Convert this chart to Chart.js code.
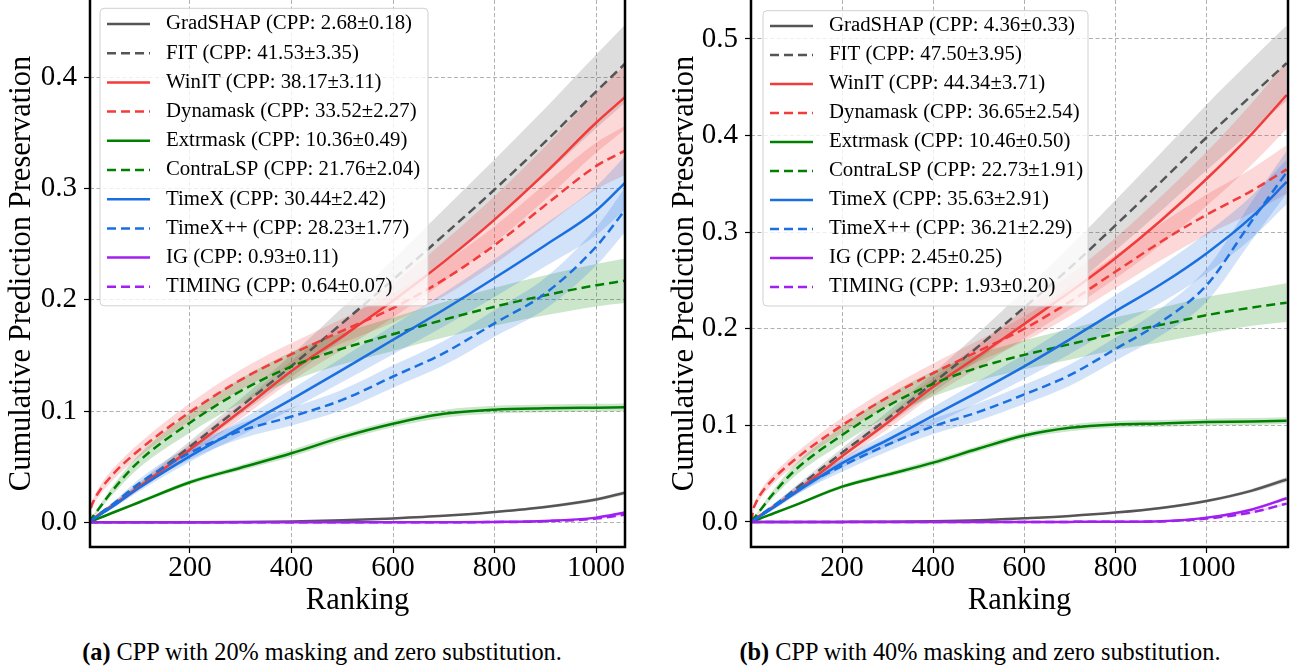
<!DOCTYPE html>
<html>
<head>
<meta charset="utf-8">
<script src="https://cdn.jsdelivr.net/npm/chart.js@4.4.1/dist/chart.umd.min.js"></script>
<style>
  body { margin: 0; background: #fff; width: 1296px; height: 669px; overflow: hidden; position: relative;
         font-family: 'Liberation Serif', 'Times New Roman', serif; }
  canvas { position: absolute; top: 0; }
  .caption { position: absolute; top: 638px; font-size: 24.3px; line-height: 28px; text-align: center; white-space: nowrap; color: #000; }
</style>
</head>
<body>
<canvas id="chartA" width="640" height="632" style="left:0"></canvas>
<canvas id="chartB" width="636" height="632" style="left:660px"></canvas>
<div class="caption" style="left:0;width:644px"><b>(a)</b> CPP with 20% masking and zero substitution.</div>
<div class="caption" style="left:660px;width:640px"><b>(b)</b> CPP with 40% masking and zero substitution.</div>
<script>
// series
const methods = ['GradSHAP', 'FIT', 'WinIT', 'Dynamask', 'Extrmask', 'ContraLSP', 'TimeX', 'TimeX++', 'IG', 'TIMING'];
const colors = ['#555555', '#555555', '#f23b3b', '#f23b3b', '#008000', '#008000', '#1a6fe0', '#1a6fe0', '#a020f0', '#a020f0'];
const dashed = [false, true, false, true, false, true, false, true, false, true];
const cppA = ['2.68±0.18', '41.53±3.35', '38.17±3.11', '33.52±2.27', '10.36±0.49', '21.76±2.04', '30.44±2.42', '28.23±1.77', '0.93±0.11', '0.64±0.07'];
const cppB = ['4.36±0.33', '47.50±3.95', '44.34±3.71', '36.65±2.54', '10.46±0.50', '22.73±1.91', '35.63±2.91', '36.21±2.29', '2.45±0.25', '1.93±0.20'];

const xTicks = [200, 400, 600, 800, 1000];
const yTicksA = [0, 0.1, 0.2, 0.3, 0.4];
const yTicksB = [0, 0.1, 0.2, 0.3, 0.4, 0.5];

// (a) 20% masking
const ranksA = [1, 5, 10, 20, 50, 100, 200, 300, 400, 500, 600, 700, 800, 900, 1000, 1057];
const gradshapA    = [0, 0, 0, 0, 0, 0, 0.0001, 0.0003, 0.0008, 0.0018, 0.0035, 0.0058, 0.0093, 0.0138, 0.0205, 0.0266];
const gradshapSdA  = [0, 0, 0, 0, 0, 0, 0, 0.0001, 0.0002, 0.0003, 0.0005, 0.0007, 0.0009, 0.0012, 0.0015, 0.0018];
const fitA         = [0, 0.0015, 0.003, 0.006, 0.016, 0.033, 0.068, 0.104, 0.1405, 0.179, 0.218, 0.258, 0.299, 0.342, 0.387, 0.412];
const fitSdA       = [0, 0, 0.0005, 0.001, 0.002, 0.003, 0.005, 0.007, 0.010, 0.014, 0.018, 0.023, 0.027, 0.030, 0.033, 0.035];
const winitA       = [0, 0.0017, 0.0035, 0.007, 0.016, 0.032, 0.0655, 0.100, 0.136, 0.167, 0.199, 0.234, 0.272, 0.314, 0.359, 0.382];
const winitSdA     = [0, 0, 0.0005, 0.001, 0.002, 0.003, 0.005, 0.007, 0.009, 0.012, 0.015, 0.018, 0.021, 0.024, 0.027, 0.029];
const dynamaskA    = [0, 0.013, 0.019, 0.027, 0.044, 0.065, 0.099, 0.128, 0.151, 0.172, 0.1925, 0.218, 0.249, 0.285, 0.320, 0.334];
const dynamaskSdA  = [0, 0.002, 0.003, 0.004, 0.005, 0.006, 0.008, 0.009, 0.010, 0.011, 0.013, 0.015, 0.017, 0.019, 0.021, 0.022];
const extrmaskA    = [0, 0.001, 0.0018, 0.0035, 0.009, 0.018, 0.036, 0.049, 0.062, 0.0765, 0.0885, 0.0975, 0.1012, 0.1024, 0.103, 0.1033];
const extrmaskSdA  = [0, 0, 0.0003, 0.0005, 0.001, 0.0015, 0.002, 0.0025, 0.003, 0.003, 0.003, 0.0035, 0.0035, 0.0035, 0.0035, 0.0035];
const contralspA   = [0, 0.003, 0.006, 0.012, 0.030, 0.055, 0.0895, 0.118, 0.140, 0.156, 0.169, 0.182, 0.1937, 0.204, 0.213, 0.217];
const contralspSdA = [0, 0.001, 0.001, 0.002, 0.004, 0.006, 0.009, 0.011, 0.013, 0.014, 0.015, 0.016, 0.017, 0.018, 0.019, 0.020];
const timexA       = [0, 0.0015, 0.003, 0.006, 0.015, 0.031, 0.0595, 0.085, 0.1105, 0.137, 0.164, 0.191, 0.2195, 0.249, 0.280, 0.305];
const timexSdA     = [0, 0, 0.0005, 0.001, 0.002, 0.003, 0.005, 0.007, 0.009, 0.011, 0.013, 0.015, 0.017, 0.019, 0.022, 0.024];
const timexppA     = [0, 0.0018, 0.0035, 0.007, 0.017, 0.035, 0.0625, 0.082, 0.095, 0.110, 0.131, 0.152, 0.1788, 0.2057, 0.2476, 0.2806];
const timexppSdA   = [0, 0, 0.0005, 0.001, 0.002, 0.004, 0.006, 0.007, 0.008, 0.009, 0.010, 0.011, 0.012, 0.014, 0.017, 0.020];
const igA          = [0, 0, 0, 0, 0, 0, 0, 0, 0, 0, 0, 0.0001, 0.0003, 0.0012, 0.0042, 0.0088];
const igSdA        = [0, 0, 0, 0, 0, 0, 0, 0, 0, 0, 0, 0, 0.0001, 0.0003, 0.0006, 0.0009];
const timingA      = [0, 0, 0, 0, 0, 0, 0, 0, 0, 0, 0, 0.0001, 0.0002, 0.0009, 0.0033, 0.0068];
const timingSdA    = [0, 0, 0, 0, 0, 0, 0, 0, 0, 0, 0, 0, 0.0001, 0.0002, 0.0005, 0.0008];

// (b) 40% masking
const ranksB = [1, 5, 10, 20, 50, 100, 200, 300, 400, 500, 600, 700, 800, 900, 1000, 1100, 1176];
const gradshapB    = [0, 0, 0, 0, 0, 0, 0.0001, 0.0003, 0.0008, 0.0018, 0.0038, 0.0062, 0.0097, 0.0145, 0.0217, 0.0325, 0.044];
const gradshapSdB  = [0, 0, 0, 0, 0, 0, 0, 0.0001, 0.0002, 0.0003, 0.0005, 0.0007, 0.0009, 0.0012, 0.0016, 0.002, 0.0025];
const fitB         = [0, 0.0015, 0.003, 0.006, 0.016, 0.035, 0.0717, 0.107, 0.144, 0.182, 0.222, 0.263, 0.307, 0.352, 0.398, 0.442, 0.475];
const fitSdB       = [0, 0, 0.0005, 0.001, 0.002, 0.003, 0.005, 0.007, 0.010, 0.014, 0.018, 0.022, 0.026, 0.030, 0.034, 0.037, 0.039];
const winitB       = [0, 0.0017, 0.0035, 0.007, 0.016, 0.032, 0.068, 0.103, 0.140, 0.172, 0.205, 0.238, 0.273, 0.312, 0.355, 0.402, 0.442];
const winitSdB     = [0, 0, 0.0005, 0.001, 0.002, 0.003, 0.005, 0.007, 0.009, 0.012, 0.015, 0.018, 0.021, 0.025, 0.028, 0.032, 0.035];
const dynamaskB    = [0, 0.013, 0.019, 0.028, 0.045, 0.066, 0.100, 0.129, 0.154, 0.177, 0.200, 0.228, 0.259, 0.290, 0.318, 0.343, 0.365];
const dynamaskSdB  = [0, 0.002, 0.003, 0.004, 0.005, 0.006, 0.008, 0.009, 0.010, 0.011, 0.013, 0.015, 0.017, 0.019, 0.021, 0.023, 0.025];
const extrmaskB    = [0, 0.001, 0.0018, 0.0035, 0.009, 0.018, 0.0366, 0.049, 0.0614, 0.076, 0.0895, 0.0975, 0.101, 0.102, 0.1034, 0.104, 0.1048];
const extrmaskSdB  = [0, 0, 0.0003, 0.0005, 0.001, 0.0015, 0.002, 0.0025, 0.003, 0.003, 0.003, 0.0035, 0.0035, 0.0035, 0.0035, 0.0035, 0.0035];
const contralspB   = [0, 0.003, 0.006, 0.012, 0.030, 0.055, 0.090, 0.120, 0.143, 0.160, 0.173, 0.184, 0.195, 0.204, 0.214, 0.222, 0.227];
const contralspSdB = [0, 0.001, 0.001, 0.002, 0.004, 0.006, 0.009, 0.011, 0.013, 0.014, 0.015, 0.016, 0.017, 0.018, 0.019, 0.019, 0.020];
const timexB       = [0, 0.0015, 0.003, 0.006, 0.015, 0.031, 0.061, 0.085, 0.110, 0.135, 0.161, 0.189, 0.218, 0.246, 0.278, 0.316, 0.352];
const timexSdB     = [0, 0, 0.0005, 0.001, 0.002, 0.003, 0.005, 0.007, 0.009, 0.011, 0.013, 0.015, 0.017, 0.019, 0.021, 0.022, 0.023];
const timexppB     = [0, 0.0018, 0.0035, 0.007, 0.017, 0.033, 0.058, 0.080, 0.099, 0.114, 0.132, 0.152, 0.179, 0.207, 0.245, 0.312, 0.362];
const timexppSdB   = [0, 0, 0.0005, 0.001, 0.002, 0.004, 0.006, 0.007, 0.008, 0.009, 0.010, 0.011, 0.012, 0.014, 0.017, 0.020, 0.022];
const igB          = [0, 0, 0, 0, 0, 0, 0, 0, 0, 0, 0, 0.0001, 0.0002, 0.0008, 0.0045, 0.013, 0.0245];
const igSdB        = [0, 0, 0, 0, 0, 0, 0, 0, 0, 0, 0, 0, 0.0001, 0.0002, 0.0006, 0.0012, 0.0018];
const timingB      = [0, 0, 0, 0, 0, 0, 0, 0, 0, 0, 0, 0.0001, 0.0002, 0.0006, 0.0035, 0.010, 0.019];
const timingSdB    = [0, 0, 0, 0, 0, 0, 0, 0, 0, 0, 0, 0, 0.0001, 0.0002, 0.0005, 0.001, 0.0015];

const meansA = [gradshapA, fitA, winitA, dynamaskA, extrmaskA, contralspA, timexA, timexppA, igA, timingA];
const sdsA = [gradshapSdA, fitSdA, winitSdA, dynamaskSdA, extrmaskSdA, contralspSdA, timexSdA, timexppSdA, igSdA, timingSdA];
const meansB = [gradshapB, fitB, winitB, dynamaskB, extrmaskB, contralspB, timexB, timexppB, igB, timingB];
const sdsB = [gradshapSdB, fitSdB, winitSdB, dynamaskSdB, extrmaskSdB, contralspSdB, timexSdB, timexppSdB, igSdB, timingSdB];

const serif = "'Liberation Serif', 'Times New Roman', serif";
const DASH = [9, 5];

function rgba(hex, a) {
  const n = parseInt(hex.slice(1), 16);
  return `rgba(${(n >> 16) & 255}, ${(n >> 8) & 255}, ${n & 255}, ${a})`;
}

// legend box drawn inside the plot, like matplotlib's
const legendBox = {
  id: 'legendBox',
  afterDatasetsDraw(chart, args, o) {
    const ctx = chart.ctx;
    ctx.save();
    ctx.beginPath();
    ctx.roundRect(o.x, o.y, o.w, o.h, 4);
    ctx.fillStyle = 'rgba(255,255,255,0.8)';
    ctx.fill();
    ctx.lineWidth = 1;
    ctx.strokeStyle = '#d0d0d0';
    ctx.stroke();
    ctx.font = `${o.fontSize}px ${serif}`;
    ctx.textBaseline = 'middle';
    o.labels.forEach((label, i) => {
      const y = o.y + o.first + i * o.step;
      ctx.beginPath();
      ctx.setLineDash(dashed[i] ? DASH : []);
      ctx.strokeStyle = colors[i];
      ctx.lineWidth = 2.5;
      ctx.moveTo(o.x + 7, y);
      ctx.lineTo(o.x + 50, y);
      ctx.stroke();
      ctx.setLineDash([]);
      ctx.fillStyle = '#000';
      ctx.fillText(label, o.x + 66, y);
    });
    ctx.restore();
  }
};

// black spines on left, bottom and right (top is outside the picture)
const spines = {
  id: 'spines',
  afterDraw(chart) {
    const { ctx, chartArea: a } = chart;
    ctx.save();
    ctx.strokeStyle = '#000';
    ctx.lineWidth = 2.5;
    ctx.beginPath();
    ctx.moveTo(a.left, a.top - 2);
    ctx.lineTo(a.left, a.bottom);
    ctx.lineTo(a.right, a.bottom);
    ctx.lineTo(a.right, a.top - 2);
    ctx.stroke();
    ctx.restore();
  }
};

function makePanel(id, ranks, means, sds, cpp, cfg) {
  const datasets = [];
  methods.forEach((m, i) => {
    const upper = ranks.map((x, j) => ({ x, y: means[i][j] + sds[i][j] }));
    const lower = ranks.map((x, j) => ({ x, y: means[i][j] - sds[i][j] }));
    const mean = ranks.map((x, j) => ({ x, y: means[i][j] }));
    const base = { pointRadius: 0, cubicInterpolationMode: 'monotone', order: 100 - i };
    datasets.push({ ...base, label: m + ' upper', data: upper, borderWidth: 0, fill: '+1', backgroundColor: rgba(colors[i], 0.2) });
    datasets.push({ ...base, label: m + ' lower', data: lower, borderWidth: 0, fill: false });
    datasets.push({ ...base, label: m, data: mean, borderColor: colors[i], borderWidth: 2.5,
                    borderDash: dashed[i] ? DASH : [], fill: false });
  });

  const tickFont = { family: serif, size: 29, lineHeight: 1 };
  const titleFont = { family: serif, size: 30.5, lineHeight: 1.2 };
  const grid = { color: '#b0b0b0', lineWidth: 1, tickLength: 6, tickColor: '#000', tickWidth: 1.2, tickBorderDash: [] };

  return new Chart(document.getElementById(id), {
    type: 'line',
    data: { datasets },
    options: {
      responsive: false,
      animation: false,
      events: [],
      layout: { padding: { left: 0, right: cfg.padRight, top: 0, bottom: 0 } },
      plugins: {
        legend: { display: false },
        tooltip: { enabled: false },
        filler: { drawTime: 'beforeDatasetsDraw' },
        legendBox: { ...cfg.legend, labels: methods.map((m, i) => `${m} (CPP: ${cpp[i]})`) }
      },
      scales: {
        x: {
          type: 'linear', min: cfg.xMin, max: cfg.xMax,
          afterBuildTicks: s => { s.ticks = xTicks.map(v => ({ value: v })); },
          afterFit: s => { s.height = 632 - 547; s.paddingLeft = 0; s.paddingRight = 0; },
          grid,
          border: { display: false, dash: [4, 2.5] },
          ticks: { font: tickFont, color: '#000', padding: 1, maxRotation: 0, callback: v => String(v) },
          title: { display: true, text: 'Ranking', color: '#000', font: titleFont, padding: { top: 0, bottom: 12.7 } }
        },
        y: {
          type: 'linear', min: cfg.yMin, max: cfg.yMax,
          afterBuildTicks: s => { s.ticks = cfg.yTicks.map(v => ({ value: v })); },
          afterFit: s => { s.width = cfg.yAxisWidth; s.paddingTop = 0; s.paddingBottom = 0; },
          grid,
          border: { display: false, dash: [4, 2.5] },
          ticks: { font: tickFont, color: '#000', padding: 7, callback: v => v.toFixed(1) },
          title: { display: true, text: 'Cumulative Prediction Preservation', color: '#000', font: titleFont,
                   padding: { top: cfg.titlePad, bottom: 0 } }
        }
      }
    },
    plugins: [legendBox, spines]
  });
}

makePanel('chartA', ranksA, meansA, sdsA, cppA, {
  xMin: 3, xMax: 1057, yMin: -0.0222, yMax: 0.4693, yTicks: yTicksA,
  yAxisWidth: 90, padRight: 15, titlePad: 3.7,
  legend: { x: 100, y: 8.3, w: 328, h: 297.5, first: 15.7, step: 29.2, fontSize: 20.8 }
});

makePanel('chartB', ranksB, meansB, sdsB, cppB, {
  xMin: 0, xMax: 1179, yMin: -0.0259, yMax: 0.5403, yTicks: yTicksB,
  yAxisWidth: 91, padRight: 8, titlePad: 6.7,
  legend: { x: 103, y: 10.7, w: 325, h: 295.3, first: 15.3, step: 29.0, fontSize: 20.8 }
});
</script>
</body>
</html>
